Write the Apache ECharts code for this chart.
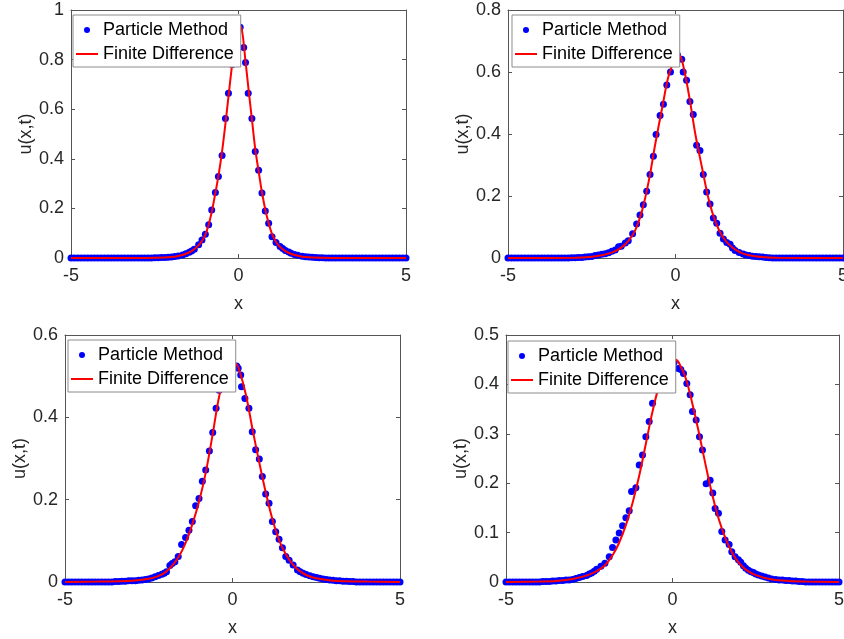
<!DOCTYPE html>
<html>
<head>
<meta charset="utf-8">
<script src="https://cdn.jsdelivr.net/npm/echarts@6/dist/echarts.min.js"></script>
<style>
html,body{margin:0;padding:0;background:#fff;}
#chart{width:844px;height:639px;}
</style>
</head>
<body>
<div id="chart"></div>
<script>
// ---- data ----
var xTicks = [-5, 0, 5];
var yMax = [1, 0.8, 0.6, 0.5];
var yStep = [0.2, 0.2, 0.2, 0.1];
var seriesNames = ['Particle Method', 'Finite Difference'];
var xLabel = 'x';
var yLabel = 'u(x,t)';

// Particle Method points [x, u]
var pm1 = [[-5,0],[-4.9,0],[-4.8,0],[-4.7,0],[-4.6,0],[-4.5,0],[-4.4,0],[-4.3,0],[-4.2,0],[-4.1,0],[-4,0],[-3.9,0],[-3.8,0],[-3.7,0],[-3.6,0],[-3.5,0],[-3.4,0],[-3.3,0],[-3.2,0],[-3.1,0],[-3,0],[-2.9,0],[-2.8,0],[-2.7,0],[-2.6,0],[-2.5,0.001],[-2.4,0.001],[-2.3,0.002],[-2.2,0.002],[-2.1,0.003],[-2,0.004],[-1.9,0.006],[-1.8,0.008],[-1.67,0.012],[-1.57,0.017],[-1.47,0.023],[-1.4,0.028],[-1.32,0.035],[-1.19,0.053],[-1.09,0.073],[-0.99,0.096],[-0.89,0.134],[-0.8,0.194],[-0.69,0.264],[-0.6,0.329],[-0.49,0.413],[-0.39,0.563],[-0.3,0.664],[-0.19,0.78],[-0.09,0.89],[0.05,0.93],[0.155,0.849],[0.21,0.788],[0.29,0.664],[0.4,0.563],[0.5,0.429],[0.6,0.354],[0.7,0.262],[0.8,0.19],[0.9,0.14],[1,0.086],[1.12,0.062],[1.24,0.046],[1.32,0.038],[1.4,0.03],[1.5,0.024],[1.57,0.019],[1.67,0.014],[1.77,0.011],[1.9,0.007],[2,0.005],[2.1,0.004],[2.2,0.003],[2.3,0.002],[2.4,0.001],[2.5,0.001],[2.6,0],[2.7,0],[2.8,0],[2.9,0],[3,0],[3.1,0],[3.2,0],[3.3,0],[3.4,0],[3.5,0],[3.6,0],[3.7,0],[3.8,0],[3.9,0],[4,0],[4.1,0],[4.2,0],[4.3,0],[4.4,0],[4.5,0],[4.6,0],[4.7,0],[4.8,0],[4.9,0],[5,0]];
var pm2 = [[-5,0],[-4.9,0],[-4.8,0],[-4.7,0],[-4.6,0],[-4.5,0],[-4.4,0],[-4.3,0],[-4.2,0],[-4.1,0],[-4,0],[-3.9,0],[-3.8,0],[-3.7,0],[-3.6,0],[-3.5,0],[-3.4,0],[-3.3,0],[-3.2,0],[-3.1,0.001],[-3,0.001],[-2.9,0.002],[-2.8,0.002],[-2.7,0.003],[-2.6,0.004],[-2.5,0.005],[-2.4,0.008],[-2.3,0.01],[-2.2,0.012],[-2.1,0.014],[-2,0.017],[-1.9,0.022],[-1.8,0.026],[-1.7,0.036],[-1.62,0.038],[-1.5,0.048],[-1.41,0.056],[-1.28,0.078],[-1.16,0.11],[-1.06,0.139],[-0.96,0.172],[-0.86,0.215],[-0.76,0.269],[-0.66,0.328],[-0.58,0.398],[-0.46,0.46],[-0.36,0.496],[-0.26,0.558],[-0.15,0.6],[-0.05,0.64],[0.06,0.655],[0.185,0.641],[0.23,0.6],[0.33,0.573],[0.43,0.505],[0.53,0.463],[0.63,0.364],[0.73,0.347],[0.83,0.269],[0.93,0.213],[1.03,0.174],[1.13,0.129],[1.23,0.112],[1.33,0.08],[1.43,0.061],[1.53,0.05],[1.63,0.044],[1.7,0.032],[1.78,0.024],[1.9,0.018],[2.02,0.013],[2.1,0.01],[2.2,0.008],[2.3,0.006],[2.4,0.005],[2.5,0.004],[2.6,0.003],[2.7,0.002],[2.8,0.001],[2.9,0],[3,0],[3.1,0],[3.2,0],[3.3,0],[3.4,0],[3.5,0],[3.6,0],[3.7,0],[3.8,0],[3.9,0],[4,0],[4.1,0],[4.2,0],[4.3,0],[4.4,0],[4.5,0],[4.6,0],[4.7,0],[4.8,0],[4.9,0],[5,0]];
var pm3 = [[-5,0],[-4.9,0],[-4.8,0],[-4.7,0],[-4.6,0],[-4.5,0],[-4.4,0],[-4.3,0],[-4.2,0],[-4.1,0],[-4,0],[-3.9,0],[-3.8,0],[-3.7,0],[-3.6,0],[-3.5,0.001],[-3.4,0.001],[-3.3,0.002],[-3.2,0.002],[-3.1,0.003],[-3,0.003],[-2.9,0.003],[-2.8,0.004],[-2.7,0.005],[-2.6,0.006],[-2.51,0.007],[-2.41,0.01],[-2.31,0.013],[-2.21,0.016],[-2.11,0.019],[-2.04,0.021],[-1.97,0.025],[-1.87,0.04],[-1.8,0.045],[-1.72,0.049],[-1.62,0.062],[-1.52,0.091],[-1.4,0.108],[-1.3,0.126],[-1.2,0.147],[-1.1,0.185],[-1,0.203],[-0.9,0.245],[-0.8,0.272],[-0.69,0.318],[-0.59,0.363],[-0.49,0.422],[-0.4,0.466],[-0.3,0.5],[-0.2,0.51],[-0.1,0.52],[0,0.525],[0.125,0.525],[0.17,0.519],[0.245,0.503],[0.27,0.474],[0.37,0.446],[0.49,0.422],[0.59,0.365],[0.69,0.321],[0.8,0.299],[0.89,0.256],[0.99,0.214],[1.09,0.191],[1.19,0.147],[1.29,0.122],[1.39,0.104],[1.49,0.083],[1.59,0.062],[1.69,0.053],[1.81,0.041],[1.94,0.029],[2.02,0.025],[2.11,0.021],[2.2,0.018],[2.31,0.015],[2.41,0.013],[2.51,0.011],[2.6,0.009],[2.7,0.007],[2.8,0.006],[2.9,0.005],[3,0.004],[3.1,0.003],[3.2,0.003],[3.3,0.002],[3.4,0.002],[3.5,0.001],[3.6,0.001],[3.7,0],[3.8,0],[3.9,0],[4,0],[4.1,0],[4.2,0],[4.3,0],[4.4,0],[4.5,0],[4.6,0],[4.7,0],[4.8,0],[4.9,0],[5,0]];
var pm4 = [[-5,0],[-4.9,0],[-4.8,0],[-4.7,0],[-4.6,0],[-4.5,0],[-4.4,0],[-4.3,0],[-4.2,0],[-4.1,0],[-4,0],[-3.9,0.001],[-3.8,0.001],[-3.7,0.001],[-3.6,0.002],[-3.5,0.002],[-3.4,0.003],[-3.3,0.003],[-3.2,0.004],[-3.1,0.004],[-3,0.005],[-2.9,0.007],[-2.8,0.009],[-2.7,0.011],[-2.58,0.013],[-2.5,0.016],[-2.43,0.018],[-2.35,0.022],[-2.28,0.026],[-2.15,0.032],[-2.03,0.038],[-1.9,0.051],[-1.8,0.07],[-1.7,0.085],[-1.6,0.099],[-1.5,0.114],[-1.4,0.13],[-1.3,0.144],[-1.23,0.183],[-1.1,0.191],[-1,0.237],[-0.9,0.257],[-0.8,0.294],[-0.7,0.325],[-0.6,0.362],[-0.5,0.389],[-0.4,0.41],[-0.3,0.425],[-0.2,0.435],[-0.1,0.44],[0.05,0.445],[0.17,0.432],[0.25,0.43],[0.33,0.422],[0.43,0.402],[0.53,0.379],[0.6,0.345],[0.71,0.328],[0.81,0.294],[0.9,0.267],[1.01,0.199],[1.13,0.206],[1.21,0.18],[1.28,0.149],[1.38,0.139],[1.48,0.102],[1.58,0.085],[1.7,0.076],[1.78,0.061],[1.88,0.051],[1.98,0.045],[2.05,0.04],[2.13,0.033],[2.2,0.028],[2.28,0.024],[2.36,0.021],[2.43,0.019],[2.5,0.016],[2.58,0.014],[2.68,0.012],[2.78,0.01],[2.88,0.008],[2.98,0.006],[3.1,0.005],[3.2,0.004],[3.3,0.004],[3.4,0.003],[3.5,0.003],[3.6,0.002],[3.7,0.002],[3.8,0.001],[3.9,0.001],[4,0],[4.1,0],[4.2,0],[4.3,0],[4.4,0],[4.5,0],[4.6,0],[4.7,0],[4.8,0],[4.9,0],[5,0]];

// Finite Difference curves [x, u]
var fd1 = [[-5,0],[-3,0],[-2.5,0.001],[-2,0.004],[-1.8,0.008],[-1.6,0.015],[-1.4,0.028],[-1.2,0.05],[-1.1,0.067],[-1,0.09],[-0.9,0.13],[-0.8,0.185],[-0.7,0.255],[-0.6,0.33],[-0.5,0.42],[-0.4,0.53],[-0.3,0.65],[-0.2,0.77],[-0.1,0.88],[0,0.945],[0.1,0.92],[0.2,0.805],[0.3,0.68],[0.4,0.56],[0.5,0.44],[0.6,0.35],[0.7,0.265],[0.8,0.195],[0.9,0.14],[1,0.097],[1.1,0.07],[1.2,0.05],[1.4,0.028],[1.6,0.015],[1.8,0.008],[2,0.004],[2.5,0.001],[3,0],[5,0]];
var fd2 = [[-5,0],[-3,0.001],[-2.5,0.004],[-2.2,0.009],[-2,0.014],[-1.8,0.022],[-1.6,0.035],[-1.4,0.056],[-1.2,0.09],[-1,0.152],[-0.8,0.247],[-0.6,0.37],[-0.4,0.483],[-0.2,0.59],[0,0.645],[0.1,0.655],[0.2,0.635],[0.4,0.527],[0.6,0.395],[0.8,0.287],[1,0.185],[1.2,0.115],[1.4,0.07],[1.6,0.043],[1.8,0.026],[2,0.015],[2.2,0.009],[2.5,0.004],[3,0.001],[5,0]];
var fd3 = [[-5,0],[-4,0.001],[-3,0.003],[-2.5,0.008],[-2.2,0.015],[-2,0.024],[-1.8,0.04],[-1.6,0.062],[-1.4,0.095],[-1.2,0.14],[-1,0.195],[-0.8,0.265],[-0.6,0.355],[-0.4,0.45],[-0.2,0.51],[0,0.53],[0.1,0.53],[0.2,0.515],[0.4,0.455],[0.6,0.37],[0.8,0.29],[1,0.215],[1.2,0.15],[1.4,0.1],[1.6,0.066],[1.8,0.043],[2,0.027],[2.2,0.017],[2.5,0.009],[3,0.003],[4,0.001],[5,0]];
var fd4 = [[-5,0],[-4,0.001],[-3.5,0.002],[-3,0.006],[-2.5,0.015],[-2.2,0.025],[-2,0.036],[-1.8,0.054],[-1.6,0.08],[-1.4,0.115],[-1.2,0.16],[-1,0.215],[-0.8,0.28],[-0.6,0.345],[-0.4,0.398],[-0.2,0.432],[0,0.448],[0.1,0.45],[0.2,0.443],[0.4,0.412],[0.6,0.36],[0.8,0.3],[1,0.235],[1.2,0.175],[1.4,0.125],[1.6,0.087],[1.8,0.058],[2,0.038],[2.2,0.025],[2.5,0.014],[3,0.005],[3.5,0.002],[4,0.001],[5,0]];

var pmData = [pm1, pm2, pm3, pm4];
var fdData = [fd1, fd2, fd3, fd4];

// ---- layout / style ----
var grids = [
  {left: 71, top: 10, width: 335, height: 248},
  {left: 508, top: 10, width: 335, height: 248},
  {left: 65, top: 335, width: 335, height: 247},
  {left: 506, top: 335, width: 333, height: 247}
];
var legendPos = [[73, 15], [512, 15], [68, 340], [508, 341]];
var FONT = 'Liberation Sans, Arial, Helvetica, sans-serif';
var AXIS_COLOR = '#555555';
var TEXT_COLOR = '#262626';
var LINE_ICON = 'path://M0,0 L44,0 L44,4 L0,4 Z';

var option = {
  backgroundColor: '#ffffff',
  animation: false,
  grid: [], xAxis: [], yAxis: [], series: [], legend: []
};

for (var i = 0; i < 4; i++) {
  option.grid.push({left: grids[i].left, top: grids[i].top, width: grids[i].width, height: grids[i].height,
    containLabel: false, outerBoundsMode: 'none'});
  var common = {
    gridIndex: i, type: 'value', splitLine: {show: false},
    axisLine: {show: true, onZero: false, lineStyle: {color: AXIS_COLOR, width: 1}},
    axisTick: {show: true, inside: true, length: 4, lineStyle: {color: AXIS_COLOR}}
  };
  option.xAxis.push(Object.assign({}, common, {
    position: 'bottom', min: xTicks[0], max: xTicks[xTicks.length - 1], interval: xTicks[1] - xTicks[0],
    name: xLabel, nameLocation: 'middle', nameGap: 37,
    nameTextStyle: {fontSize: 18, color: TEXT_COLOR, fontFamily: FONT},
    axisLabel: {show: true, margin: 9, fontSize: 18, color: TEXT_COLOR, fontFamily: FONT, showMinLabel: true, showMaxLabel: true}
  }));
  option.xAxis.push(Object.assign({}, common, {
    position: 'top', min: xTicks[0], max: xTicks[xTicks.length - 1], interval: xTicks[1] - xTicks[0],
    axisLabel: {show: false}
  }));
  option.yAxis.push(Object.assign({}, common, {
    position: 'left', min: 0, max: yMax[i], interval: yStep[i],
    name: yLabel, nameLocation: 'middle', nameGap: 33,
    nameTextStyle: {fontSize: 18, color: TEXT_COLOR, fontFamily: FONT},
    axisLabel: {show: true, margin: 7, fontSize: 18, color: TEXT_COLOR, fontFamily: FONT, showMinLabel: true, showMaxLabel: true}
  }));
  option.yAxis.push(Object.assign({}, common, {
    position: 'right', min: 0, max: yMax[i], interval: yStep[i],
    axisLabel: {show: false}
  }));

  option.series.push({
    name: seriesNames[0], type: 'scatter',
    xAxisIndex: 2 * i, yAxisIndex: 2 * i,
    data: pmData[i], symbol: 'circle', symbolSize: 7,
    itemStyle: {color: '#0000ff', opacity: 1}, z: 2, silent: true
  });
  option.series.push({
    name: seriesNames[1], type: 'line',
    xAxisIndex: 2 * i, yAxisIndex: 2 * i,
    data: fdData[i], showSymbol: false, symbol: 'none', smooth: 0.35,
    lineStyle: {color: '#ff0000', width: 2}, itemStyle: {color: '#ff0000'},
    z: 3, silent: true
  });

  option.legend.push({
    left: legendPos[i][0], top: legendPos[i][1],
    orient: 'vertical', selectedMode: false,
    data: [
      {name: seriesNames[0], icon: 'circle', itemStyle: {color: '#0000ff', opacity: 1}},
      {name: seriesNames[1], icon: LINE_ICON, itemStyle: {color: '#ff0000'}}
    ],
    itemWidth: 22, itemHeight: 6, itemGap: 6,
    padding: [6, 7, 4, 3],
    backgroundColor: '#ffffff', borderColor: '#8c8c8c', borderWidth: 1,
    textStyle: {fontSize: 18, color: '#000000', fontFamily: FONT, lineHeight: 18},
    z: 10
  });
}

var chart = echarts.init(document.getElementById('chart'), null, {renderer: 'canvas'});
chart.setOption(option);
</script>
</body>
</html>
